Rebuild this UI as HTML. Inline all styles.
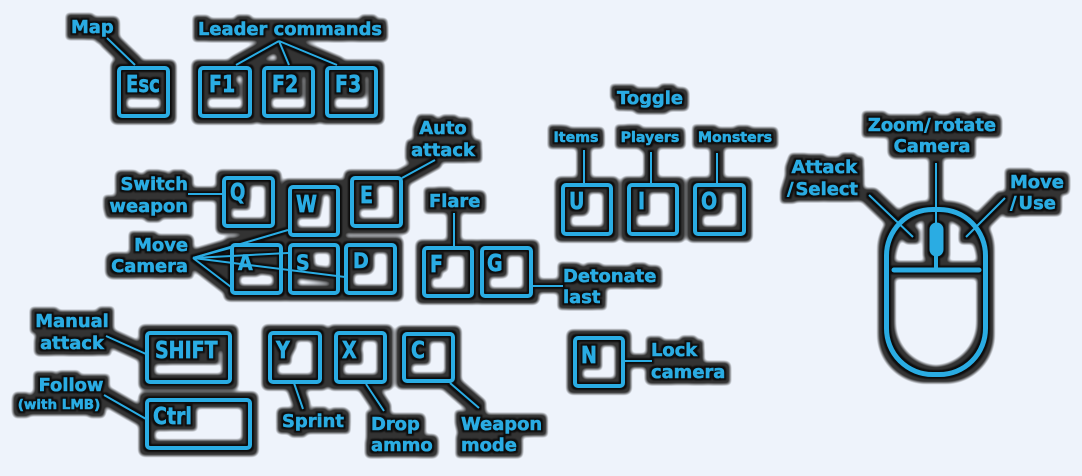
<!DOCTYPE html>
<html><head><meta charset="utf-8">
<style>
html,body{margin:0;padding:0;background:#eef3fb;width:1082px;height:476px;overflow:hidden}
svg{display:block}
text{font-family:"DejaVu Sans","Liberation Sans",sans-serif;font-weight:bold;fill:#2aace3;stroke:#2aace3;stroke-width:.55px;font-size:17.9px}
.r{text-anchor:end}.m{text-anchor:middle}
.s{font-size:14.2px}
.k{font-size:19px}
.b rect{fill:none;stroke:#2aace3;stroke-width:4}
.b line{stroke:#2aace3;stroke-width:2}
</style></head><body>
<svg width="1082" height="476" viewBox="0 0 1082 476" xmlns="http://www.w3.org/2000/svg">
<defs>
<filter id="h" filterUnits="userSpaceOnUse" x="0" y="0" width="1082" height="476" color-interpolation-filters="sRGB">
<feMorphology in="SourceAlpha" operator="dilate" radius="6"/>
<feGaussianBlur stdDeviation="2"/>
<feComponentTransfer result="d1"><feFuncA type="linear" slope="1.7" intercept="-.35"/></feComponentTransfer>
<feFlood flood-color="#333333"/><feComposite in2="d1" operator="in" result="gray"/>
<feMorphology in="SourceAlpha" operator="dilate" radius="2"/>
<feGaussianBlur stdDeviation=".7" result="d2"/>
<feFlood flood-color="#0c0c0c"/><feComposite in2="d2" operator="in" result="blk"/>
<feMerge><feMergeNode in="gray"/><feMergeNode in="blk"/><feMergeNode in="SourceGraphic"/></feMerge>
</filter>
</defs>
<g class="b" filter="url(#h)">
<!-- keys -->
<rect x="119" y="68" width="49" height="48" rx="3"/>
<rect x="200" y="68" width="50" height="48" rx="3"/>
<rect x="264" y="68" width="49" height="48" rx="3"/>
<rect x="327" y="68" width="49" height="48" rx="3"/>
<rect x="224" y="178" width="49" height="48" rx="3"/>
<rect x="290" y="187" width="48" height="48" rx="3"/>
<rect x="352" y="178" width="49" height="48" rx="3"/>
<rect x="232" y="245" width="49" height="48" rx="3"/>
<rect x="290" y="245" width="48" height="48" rx="3"/>
<rect x="346" y="245" width="49" height="48" rx="3"/>
<rect x="147" y="333" width="83" height="49" rx="3"/>
<rect x="147" y="400" width="103" height="48" rx="3"/>
<rect x="270" y="333" width="50" height="49" rx="3"/>
<rect x="336" y="333" width="49" height="49" rx="3"/>
<rect x="404" y="334" width="49" height="47" rx="3"/>
<rect x="563" y="185" width="48" height="49" rx="3"/>
<rect x="629" y="185" width="48" height="49" rx="3"/>
<rect x="695" y="185" width="49" height="49" rx="3"/>
<rect x="424" y="248" width="48" height="48" rx="3"/>
<rect x="482" y="248" width="49" height="48" rx="3"/>
<rect x="575" y="338" width="48" height="48" rx="3"/>
<!-- connectors -->
<line x1="107" y1="38" x2="135" y2="65"/>
<line x1="279" y1="41" x2="236" y2="65"/>
<line x1="279" y1="41" x2="289" y2="65"/>
<line x1="279" y1="41" x2="337" y2="65"/>
<line x1="188" y1="194" x2="222" y2="194"/>
<line x1="193" y1="258" x2="288" y2="230"/>
<line x1="193" y1="258" x2="230" y2="248"/>
<line x1="193" y1="258" x2="288" y2="253"/>
<line x1="193" y1="258" x2="345" y2="277"/>
<line x1="193" y1="258" x2="231" y2="287"/>
<line x1="106" y1="336" x2="146" y2="354"/>
<line x1="104" y1="395" x2="146" y2="419"/>
<line x1="294" y1="383" x2="303" y2="409"/>
<line x1="366" y1="384" x2="384" y2="411"/>
<line x1="450" y1="383" x2="479" y2="408"/>
<line x1="435" y1="160" x2="402" y2="178"/>
<line x1="454" y1="213" x2="454" y2="246"/>
<line x1="533" y1="286" x2="563" y2="286"/>
<line x1="625" y1="361" x2="652" y2="361"/>
<line x1="584" y1="150" x2="584" y2="183"/>
<line x1="651" y1="152" x2="651" y2="183"/>
<line x1="717" y1="153" x2="717" y2="183"/>
<!-- mouse -->
<rect x="886.5" y="209.5" width="99" height="165" rx="46" style="stroke-width:5"/>
<line x1="894" y1="270" x2="979" y2="270" style="stroke-width:5;stroke-linecap:round"/>
<rect x="931.5" y="224.5" width="10" height="30" rx="5" style="stroke-width:4;fill:#2aace3"/>
<line x1="936" y1="163" x2="936" y2="225"/>
<line x1="936" y1="254" x2="936" y2="268" style="stroke-width:4"/>
<line x1="869" y1="195" x2="913" y2="237"/>
<line x1="1005" y1="198" x2="966" y2="237"/>
<!-- key labels -->
<text class="k" transform="translate(126,92) scale(.95,1.22)">Esc</text>
<text class="k" transform="translate(209,92) scale(1,1.22)">F1</text>
<text class="k" transform="translate(272,92) scale(1,1.22)">F2</text>
<text class="k" transform="translate(335,92) scale(1,1.22)">F3</text>
<text class="k" transform="translate(230,200) scale(.95,1.2)">Q</text>
<text class="k" transform="translate(296,212) scale(1,1.2)">W</text>
<text class="k" transform="translate(360,203) scale(1,1.2)">E</text>
<text class="k" transform="translate(238,270) scale(1,1.12)">A</text>
<text class="k" transform="translate(296,270) scale(1,1.12)">S</text>
<text class="k" transform="translate(353,268) scale(1,1.12)">D</text>
<text class="k" transform="translate(155,358) scale(1,1.22)">SHIFT</text>
<text class="k" transform="translate(153,424) scale(1,1.22)">Ctrl</text>
<text class="k" transform="translate(276,358) scale(1,1.2)">Y</text>
<text class="k" transform="translate(342,358) scale(1,1.2)">X</text>
<text class="k" transform="translate(411,358) scale(1,1.2)">C</text>
<text class="k" transform="translate(581,363) scale(1,1.2)">N</text>
<text class="k" transform="translate(569,209) scale(1,1.2)">U</text>
<text class="k" transform="translate(638,209) scale(1,1.2)">I</text>
<text class="k" transform="translate(701,209) scale(1,1.2)">O</text>
<text class="k" transform="translate(430,272) scale(1,1.2)">F</text>
<text class="k" transform="translate(487,271) scale(1,1.2)">G</text>
<!-- labels -->
<text x="71" y="33">Map</text>
<text x="198" y="35">Leader commands</text>
<text class="r" x="188" y="190">Switch</text>
<text class="r" x="188" y="212">weapon</text>
<text class="r" x="188" y="251">Move</text>
<text class="r" x="188" y="272">Camera</text>
<text class="m" x="72" y="327">Manual</text>
<text class="m" x="72" y="349">attack</text>
<text class="m" x="71" y="391">Follow</text>
<text class="m" x="59" y="409" style="font-size:13.5px">(with LMB)</text>
<text x="282" y="427">Sprint</text>
<text x="371" y="430">Drop</text>
<text x="371" y="451">ammo</text>
<text x="461" y="430">Weapon</text>
<text x="461" y="451">mode</text>
<text class="m" x="443" y="134">Auto</text>
<text class="m" x="443" y="156">attack</text>
<text x="429" y="207">Flare</text>
<text x="563" y="282">Detonate</text>
<text x="563" y="303">last</text>
<text x="651" y="356">Lock</text>
<text x="651" y="378">camera</text>
<text class="m" x="650" y="104">Toggle</text>
<text class="m s" x="576" y="142">Items</text>
<text class="m s" x="650" y="142">Players</text>
<text class="m s" x="735" y="142">Monsters</text>
<text class="r" x="857" y="173">Attack</text>
<text class="r" x="858" y="195">/<tspan dx="2">Select</tspan></text>
<text class="m" x="932" y="131">Zoom/<tspan dx="3">rotate</tspan></text>
<text class="m" x="932" y="152">Camera</text>
<text x="1010" y="188">Move</text>
<text x="1010" y="209">/<tspan dx="2">Use</tspan></text>
</g>
</svg>
</body></html>
